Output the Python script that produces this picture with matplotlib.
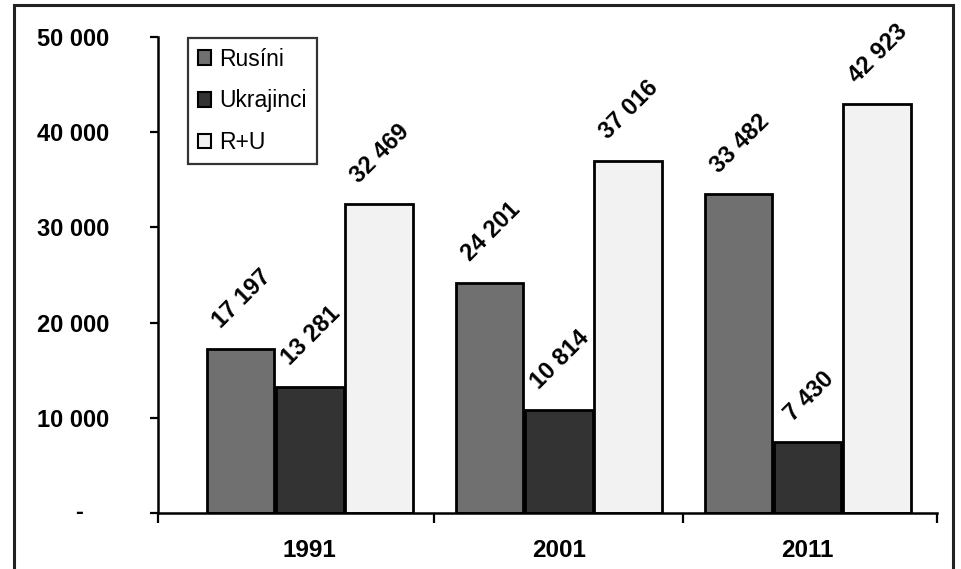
import matplotlib
matplotlib.use("Agg")
import matplotlib.pyplot as plt
import matplotlib.transforms as mtransforms
import numpy as np
from matplotlib.patches import Rectangle, Patch

years = ["1991", "2001", "2011"]
series_names = ["Rusíni", "Ukrajinci", "R+U"]
rusini = [17197, 24201, 33482]
ukrajinci = [13281, 10814, 7430]
r_plus_u = [32469, 37016, 42923]
ytick_values = [0, 10000, 20000, 30000, 40000, 50000]
ytick_labels = ["", "10 000", "20 000", "30 000", "40 000", "50 000"]
zero_label = "-"

colors = ["#707070", "#333333", "#f2f2f2"]

plt.rcParams['font.family'] = ['Liberation Sans', 'DejaVu Sans']

fig = plt.figure(figsize=(9.62, 5.69), dpi=100)
# outer frame (open at the bottom)
fig.patches.append(Rectangle((14/962, -0.05), (953-14)/962, 1.05 - 5/569,
                             transform=fig.transFigure, fill=False,
                             edgecolor="#222222", linewidth=2.2))

ax = fig.add_axes([158/962, 1-513/569, (937-158)/962, (513-37)/569])

x = np.arange(len(years))
w = 0.272
xlim0, xlim1 = -0.61, 2.52
data = [rusini, ukrajinci, r_plus_u]
for i, (vals, c, name) in enumerate(zip(data, colors, series_names)):
    pos = x + (i - 1) * (w + 0.006)
    ax.bar(pos, vals, width=w, color=c, edgecolor="black", linewidth=2.0, label=name, zorder=2)
    for xb, v in zip(pos, vals):
        lbl = f"{v:,}".replace(",", " ")
        ax.annotate(lbl, (xb, v), xytext=(1, 12), textcoords="offset points",
                    rotation=45, ha="center", va="bottom",
                    fontsize=17, fontweight="bold", color="black")

ax.set_xlim(xlim0, xlim1)
ax.set_ylim(0, 50000)
ax.set_yticks(ytick_values)
ax.set_yticklabels(ytick_labels, fontsize=17, fontweight="bold")
ax.tick_params(axis="y", direction="out", length=6, width=1.6, pad=29)
ax.text((79-158)/779, 0, zero_label,
        transform=mtransforms.blended_transform_factory(ax.transAxes, ax.transData),
        fontsize=17, fontweight="bold", ha="center", va="center", clip_on=False)

ax.set_xticks([xlim0, 0.5, 1.5, xlim1])
ax.set_xticklabels([])
ax.tick_params(axis="x", which="major", direction="out", length=7, width=1.6)
ax.set_xticks(x, minor=True)
ax.set_xticklabels(years, minor=True, fontsize=17.5, fontweight="bold")
ax.tick_params(axis="x", which="minor", length=0, pad=19)

for s in ["top", "right"]:
    ax.spines[s].set_visible(False)
for s in ["left", "bottom"]:
    ax.spines[s].set_linewidth(1.8)

handles = [Patch(facecolor=c, edgecolor="black", linewidth=1.5) for c in colors]
leg = ax.legend(handles, series_names, loc="upper left", bbox_to_anchor=((188-158)/779, 0.998),
                borderaxespad=0, fontsize=16.5, frameon=True, fancybox=False,
                handlelength=0.6, handleheight=0.6, handletextpad=0.35,
                labelspacing=0.82, borderpad=0.42)
leg.get_frame().set_edgecolor("black")
leg.get_frame().set_linewidth(1.6)

fig.savefig("out.png", dpi=100)
